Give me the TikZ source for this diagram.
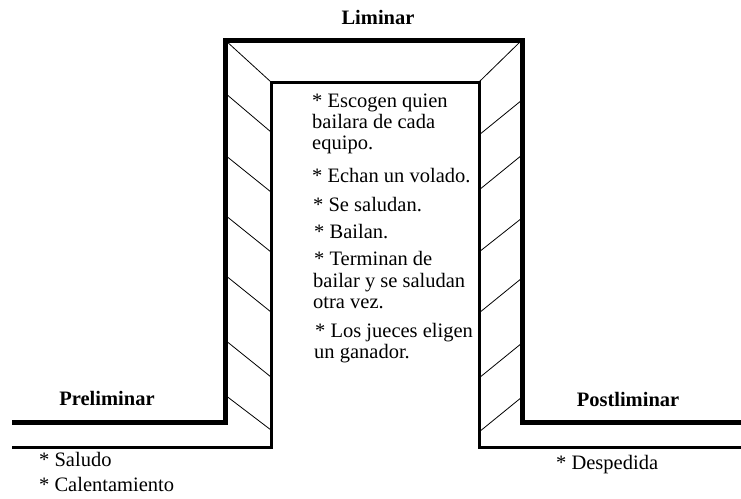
\documentclass[tikz,border=0pt]{standalone}
\usepackage{fontspec}
\setmainfont{Liberation Serif}
\begin{document}
\begin{tikzpicture}[x=1pt,y=-1pt,
  outerline/.style={line width=5pt, line join=miter},
  innerline/.style={line width=3pt, line join=miter},
  hatch/.style={line width=0.8pt},
  lbl/.style={font=\fontsize{20.5}{21}\selectfont\bfseries, inner sep=0pt, anchor=base},
  txt/.style={font=\fontsize{20.5}{21}\selectfont, inner sep=0pt, anchor=base west}]
\useasboundingbox (0,0) rectangle (741,498);
% hatching left column
\foreach \a/\b in {40/82, 93/132, 155/192, 215/252, 275/312, 340/377, 395/430}
  \draw[hatch] (225,\a) -- (271,\b);
% hatching right column
\foreach \a/\b in {40/82, 100/135, 155/190, 218/252, 278/313, 343/378, 397/432}
  \draw[hatch] (522,\a) -- (479,\b);
% outer thick line
\draw[outerline] (12,422) -- (225,422) -- (225,40) -- (522,40) -- (522,422) -- (741,422);
% inner line
\draw[innerline] (12,447) -- (271,447) -- (271,82) -- (479,82) -- (479,447) -- (741,447);
% labels
\node[lbl] (lim) at (378,24) {Liminar};
\node[lbl] (pre) at (107,405) {Preliminar};
\node[lbl] (post) at (628,406) {Postliminar};
% liminar items
\node[txt] (l1) at (312,107) {* Escogen quien};
\node[txt] (l2) at (312,128) {bailara de cada};
\node[txt] (l3) at (312,149) {equipo.};
\node[txt] (l4) at (312,182) {* Echan un volado.};
\node[txt] (l5) at (313,211) {* Se saludan.};
\node[txt] (l6) at (314,238) {* Bailan.};
\node[txt] (l7) at (314,265) {* Terminan de};
\node[txt] (l8) at (313,287) {bailar y se saludan};
\node[txt] (l9) at (313,308) {otra vez.};
\node[txt] (l10) at (315,337) {* Los jueces eligen};
\node[txt] (l11) at (314,358) {un ganador.};
% preliminar items
\node[txt] (p1) at (39,466) {* Saludo};
\node[txt] (p2) at (39,491) {* Calentamiento};
% postliminar items
\node[txt] (q1) at (556,469) {* Despedida};
\end{tikzpicture}
\end{document}
